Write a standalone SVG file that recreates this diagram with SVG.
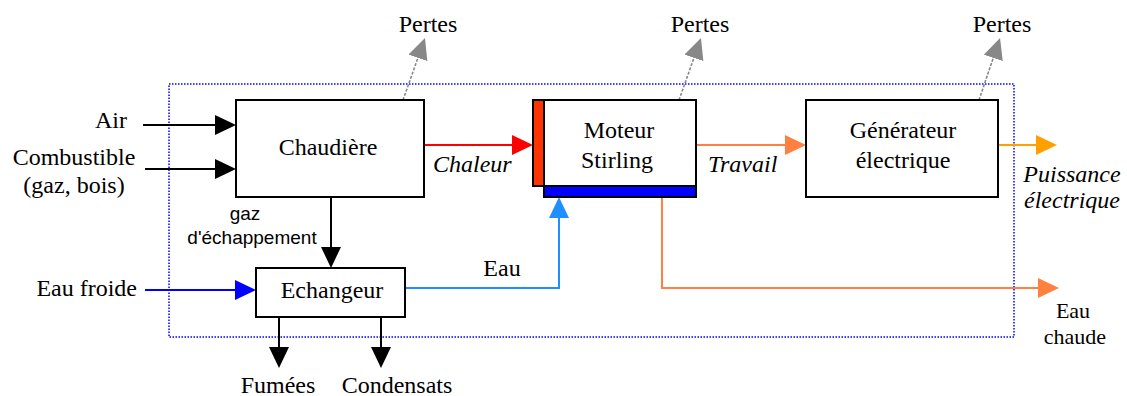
<svg xmlns="http://www.w3.org/2000/svg" width="1127" height="396" viewBox="0 0 1127 396">
<style>
.box{fill:#fff;stroke:#000;stroke-width:2}
.t{font-family:"Liberation Serif","Times New Roman",serif;font-size:24px;fill:#000}
.i{font-style:italic}
.s{font-family:"Liberation Sans",Arial,sans-serif;font-size:19px;fill:#000}
.m{text-anchor:middle}
.e{text-anchor:end}
.ln{fill:none;stroke-width:2}
.loss{fill:none;stroke:#888;stroke-width:1.6;stroke-dasharray:3 1.5}
</style>
<defs>
<marker id="aK" markerUnits="userSpaceOnUse" markerWidth="22" markerHeight="20" refX="10" refY="10" orient="auto"><path d="M0,0 L21,10 L0,20 z" fill="#000"/></marker>
<marker id="aR" markerUnits="userSpaceOnUse" markerWidth="22" markerHeight="20" refX="10" refY="10" orient="auto"><path d="M0,0 L21,10 L0,20 z" fill="#ff0000"/></marker>
<marker id="aO" markerUnits="userSpaceOnUse" markerWidth="22" markerHeight="20" refX="10" refY="10" orient="auto"><path d="M0,0 L21,10 L0,20 z" fill="#ff8040"/></marker>
<marker id="aY" markerUnits="userSpaceOnUse" markerWidth="22" markerHeight="20" refX="10" refY="10" orient="auto"><path d="M0,0 L21,10 L0,20 z" fill="#ffa000"/></marker>
<marker id="aB" markerUnits="userSpaceOnUse" markerWidth="22" markerHeight="20" refX="10" refY="10" orient="auto"><path d="M0,0 L21,10 L0,20 z" fill="#0000ff"/></marker>
<marker id="aL" markerUnits="userSpaceOnUse" markerWidth="22" markerHeight="20" refX="10" refY="10" orient="auto"><path d="M0,0 L21,10 L0,20 z" fill="#1e8fff"/></marker>
<marker id="aG" markerUnits="userSpaceOnUse" markerWidth="22" markerHeight="20" refX="10" refY="10" orient="auto"><path d="M0,0 L21,10 L0,20 z" fill="#888"/></marker>
</defs>
<rect width="1127" height="396" fill="#fff"/>
<rect id="boundary" x="169" y="84" width="845" height="253" fill="none" stroke="#0000ff" stroke-width="1.5" stroke-dasharray="1.5 1.5"/>

<g id="connectors">
<path class="ln" stroke="#000" d="M143,125 H225" marker-end="url(#aK)"/>
<path class="ln" stroke="#000" d="M145,169 H225" marker-end="url(#aK)"/>
<path class="ln" stroke="#ff0000" d="M424,145 H522" marker-end="url(#aR)"/>
<path class="ln" stroke="#ff8040" d="M696,145 H795" marker-end="url(#aO)"/>
<path class="ln" stroke="#ffa000" d="M998,145 H1046" marker-end="url(#aY)"/>
<path class="ln" stroke="#000" d="M331,197 V257" marker-end="url(#aK)"/>
<path class="ln" stroke="#0000ff" d="M145,290 H245" marker-end="url(#aB)"/>
<path class="ln" stroke="#000" d="M279,317 V357" marker-end="url(#aK)"/>
<path class="ln" stroke="#000" d="M381,317 V357" marker-end="url(#aK)"/>
<path class="ln" stroke="#1e8fff" d="M405,288 H559 V208" marker-end="url(#aL)"/>
<path class="ln" stroke="#ff8040" d="M662,197 V288 H1048" marker-end="url(#aO)"/>
<path class="loss" d="M403,100 L421.3,48.4" marker-end="url(#aG)"/>
<path class="loss" d="M679,100 L697.3,48.4" marker-end="url(#aG)"/>
<path class="loss" d="M979,100 L996.5,48.4" marker-end="url(#aG)"/>
</g>

<g id="chaudiere">
<rect class="box" x="236" y="100" width="188" height="97"/>
<text class="t m" x="328" y="155">Chaudière</text>
</g>
<g id="moteur">
<rect x="533" y="100" width="11" height="86" fill="#ff3300" stroke="#000" stroke-width="2"/>
<rect class="box" x="544" y="100" width="152" height="86"/>
<rect x="544" y="186" width="152" height="11" fill="#0000ff" stroke="#000" stroke-width="2"/>
<text class="t m" x="619" y="138">Moteur</text>
<text class="t m" x="617" y="168">Stirling</text>
</g>
<g id="generateur">
<rect class="box" x="806" y="100" width="192" height="97"/>
<text class="t m" x="903" y="138">Générateur</text>
<text class="t m" x="903" y="168">électrique</text>
</g>
<g id="echangeur">
<rect class="box" x="256" y="268" width="149" height="49"/>
<text class="t m" x="332" y="298">Echangeur</text>
</g>

<g id="labels">
<text class="t m" x="428" y="32">Pertes</text>
<text class="t m" x="700" y="32">Pertes</text>
<text class="t m" x="1002" y="32">Pertes</text>
<text class="t e" x="127" y="128">Air</text>
<text class="t m" x="74" y="165">Combustible</text>
<text class="t m" x="74" y="193">(gaz, bois)</text>
<text class="t i" x="433" y="172">Chaleur</text>
<text class="t i" x="708" y="172">Travail</text>
<text class="t i m" x="1072" y="182">Puissance</text>
<text class="t i m" x="1072" y="208">électrique</text>
<text class="s m" x="245" y="220">gaz</text>
<text class="s m" x="252" y="244">d'échappement</text>
<text class="t e" x="137" y="296">Eau froide</text>
<text class="t m" x="502" y="276">Eau</text>
<text class="t m" x="1073" y="318" style="font-size:22px">Eau</text>
<text class="t m" x="1075" y="344" style="font-size:22px">chaude</text>
<text class="t m" x="278" y="393">Fumées</text>
<text class="t m" x="397" y="393">Condensats</text>
</g>
</svg>
